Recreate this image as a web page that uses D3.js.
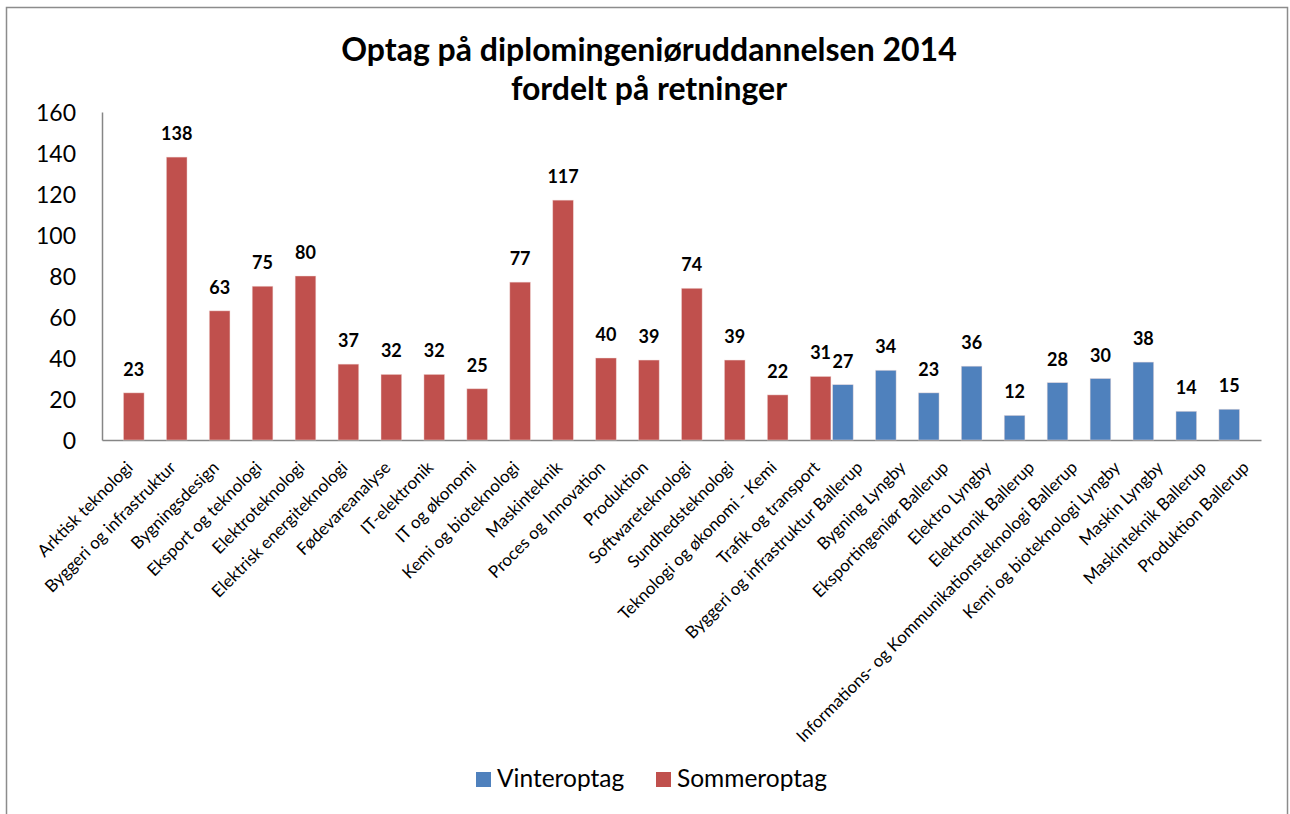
<!DOCTYPE html>
<html lang="da">
<head>
  <meta charset="UTF-8">
  <title>Optag på diplomingeniøruddannelsen 2014</title>
  <script src="https://d3js.org/d3.v7.min.js"></script>
  <style>
    body { margin: 0; background: #fff; }
    text { font-family: Lato, "Open Sans", sans-serif; fill: #000; }
  </style>
</head>
<body>
  <svg width="1290" height="814"></svg>

  <script>
    // Retninger (kategorier) i rækkefølge
    const categories = [
      "Arktisk teknologi", "Byggeri og infrastruktur", "Bygningsdesign",
      "Eksport og teknologi", "Elektroteknologi", "Elektrisk energiteknologi",
      "Fødevareanalyse", "IT-elektronik", "IT og økonomi", "Kemi og bioteknologi",
      "Maskinteknik", "Proces og Innovation", "Produktion", "Softwareteknologi",
      "Sundhedsteknologi", "Teknologi og økonomi - Kemi", "Trafik og transport",
      "Byggeri og infrastruktur Ballerup", "Bygning Lyngby", "Eksportingeniør Ballerup",
      "Elektro Lyngby", "Elektronik Ballerup",
      "Informations- og Kommunikationsteknologi Ballerup",
      "Kemi og bioteknologi Lyngby", "Maskin Lyngby", "Maskinteknik Ballerup",
      "Produktion Ballerup"
    ];

    // Sommeroptag (null = ingen værdi)
    const sommeroptag = [23, 138, 63, 75, 80, 37, 32, 32, 25, 77, 117, 40, 39, 74, 39, 22, 31,
      null, null, null, null, null, null, null, null, null, null];

    // Vinteroptag
    const vinteroptag = [null, null, null, null, null, null, null, null, null, null, null,
      null, null, null, null, null, null, 27, 34, 23, 36, 12, 28, 30, 38, 14, 15];

    const seriesNames = ["Vinteroptag", "Sommeroptag"];
    const seriesColors = ["#4F81BD", "#C0504D"];
    const yTicks = [0, 20, 40, 60, 80, 100, 120, 140, 160];
    const titleLines = ["Optag på diplomingeniøruddannelsen 2014", "fordelt på retninger"];

    const svg = d3.select("svg");

    // chart border
    svg.append("rect")
        .attr("x", 6.5).attr("y", 7.5)
        .attr("width", 1281).attr("height", 830)
        .attr("fill", "none")
        .attr("stroke", "#8c8c8c")
        .attr("stroke-width", 1.5);

    const plotLeft = 102, plotRight = 1261, plotTop = 112, plotBottom = 440;

    const x0 = d3.scaleBand()
        .domain(categories)
        .range([plotLeft, plotRight])
        .padding(0);

    const x1 = d3.scaleBand()
        .domain(seriesNames)
        .range([0, x0.bandwidth()])
        .paddingInner(0)
        .paddingOuter(0.04);

    const y = d3.scaleLinear()
        .domain([0, 160])
        .range([plotBottom, plotTop]);

    // title
    svg.append("text")
        .attr("x", 649)
        .attr("y", 61)
        .attr("text-anchor", "middle")
        .style("font-size", "32px")
        .style("font-weight", "bold")
        .selectAll("tspan")
        .data(titleLines)
        .enter().append("tspan")
        .attr("x", 649)
        .attr("dy", (d, i) => i === 0 ? 0 : 39)
        .text(d => d);

    // y axis
    const yAxis = svg.append("g")
        .attr("transform", `translate(${plotLeft},0)`)
        .call(d3.axisLeft(y).tickValues(yTicks).tickSize(0).tickPadding(26));
    yAxis.select(".domain").attr("stroke", "#868686").attr("stroke-width", 1.5);
    yAxis.selectAll("text")
        .style("font-size", "23px")
        .attr("dy", "0.36em");

    // x axis
    const xAxis = svg.append("g")
        .attr("transform", `translate(0,${plotBottom})`)
        .call(d3.axisBottom(x0).tickSize(0).tickFormat(""));
    xAxis.select(".domain").attr("stroke", "#868686").attr("stroke-width", 1.5);

    // category labels
    svg.append("g")
        .selectAll("text")
        .data(categories)
        .enter().append("text")
        .attr("text-anchor", "end")
        .attr("dy", "0.71em")
        .attr("transform", d => `translate(${x0(d) + x0.bandwidth() / 2 + 2},${plotBottom + 20}) rotate(-45)`)
        .style("font-size", "17px")
        .text(d => d);

    // bars
    const seriesValues = [vinteroptag, sommeroptag];
    seriesNames.forEach((name, s) => {
      const pts = categories
          .map((c, i) => ({ cat: c, value: seriesValues[s][i] }))
          .filter(d => d.value != null);

      const g = svg.append("g");
      g.selectAll("rect")
          .data(pts)
          .enter().append("rect")
          .attr("x", d => x0(d.cat) + x1(name))
          .attr("y", d => y(d.value))
          .attr("width", x1.bandwidth())
          .attr("height", d => y(0) - y(d.value))
          .attr("fill", seriesColors[s])
          .attr("stroke", "#f2dcdb")
          .attr("stroke-opacity", 0.6)
          .attr("stroke-width", 0.75);

      g.selectAll("text")
          .data(pts)
          .enter().append("text")
          .attr("x", d => x0(d.cat) + x1(name) + x1.bandwidth() / 2)
          .attr("y", d => y(d.value) - 17)
          .attr("text-anchor", "middle")
          .style("font-size", "18px")
          .style("font-weight", "bold")
          .text(d => d.value);
    });

    // legend
    const legendX = [476, 656];
    const legend = svg.append("g");
    seriesNames.forEach((name, s) => {
      legend.append("rect")
          .attr("x", legendX[s]).attr("y", 772)
          .attr("width", 15).attr("height", 15)
          .attr("fill", seriesColors[s]);
      legend.append("text")
          .attr("x", legendX[s] + 21)
          .attr("y", 787)
          .style("font-size", "24.5px")
          .text(name);
    });
  </script>
</body>
</html>
